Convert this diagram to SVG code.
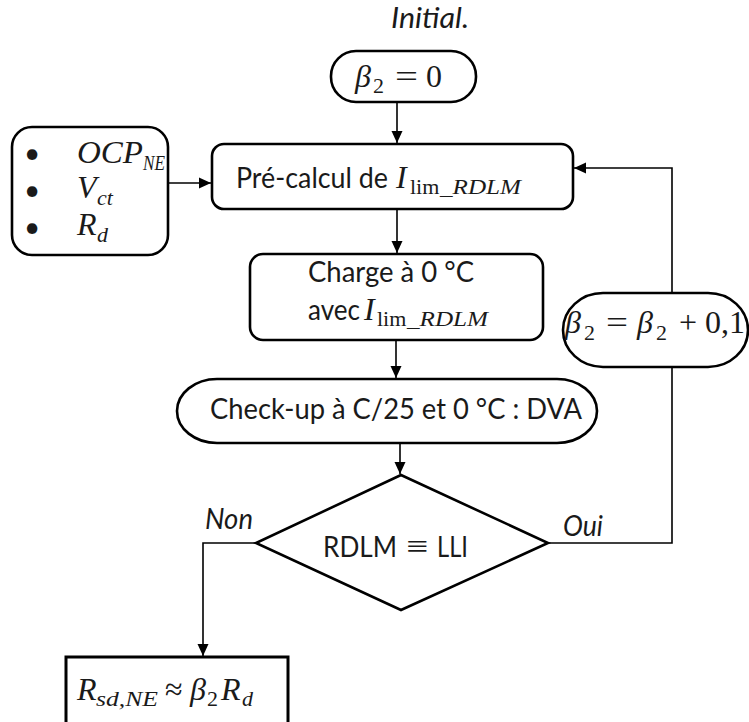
<svg xmlns="http://www.w3.org/2000/svg" width="749" height="722" viewBox="0 0 749 722">
<style>
.box{fill:#fff;stroke:#000;stroke-width:2.6}
.res{fill:#fff;stroke:#000;stroke-width:3}
.conn{fill:none;stroke:#000;stroke-width:1.6}
.sans{font-family:Lato,"Liberation Sans",sans-serif;font-size:28px;fill:#1a1a1a}
.it{font-style:italic}
.math{font-family:"Liberation Serif","DejaVu Serif",serif;font-style:italic;font-size:32px;fill:#1a1a1a}
.mr{font-family:"Liberation Serif","DejaVu Serif",serif;font-size:32px;fill:#1a1a1a}
.sub{font-size:22px}
</style>
<defs>
<marker id="arr" viewBox="0 0 12 12" refX="12" refY="6" markerWidth="12" markerHeight="12" markerUnits="userSpaceOnUse" orient="auto">
<path d="M0,0.5 L12,6 L0,11.5 z" fill="#000"/>
</marker>
</defs>

<g id="connectors" class="conn">
<line x1="397" y1="102" x2="397" y2="143" marker-end="url(#arr)"/>
<line x1="168" y1="183" x2="211" y2="183" marker-end="url(#arr)"/>
<line x1="397" y1="209" x2="397" y2="253" marker-end="url(#arr)"/>
<line x1="396" y1="340" x2="396" y2="378" marker-end="url(#arr)"/>
<line x1="400" y1="443" x2="400" y2="474" marker-end="url(#arr)"/>
<polyline points="256,543 203,543 203,656" marker-end="url(#arr)"/>
<polyline points="548,543 672,543 672,352" marker-end="url(#arr)"/>
<polyline points="672,293 672,168 574,168" marker-end="url(#arr)"/>
</g>

<text class="sans it" x="391" y="28" font-size="27" textLength="78" lengthAdjust="spacingAndGlyphs">Initial.</text>

<g id="start">
<rect class="box" x="331" y="51" width="145" height="51" rx="25" ry="25"/>
<text class="math" x="355" y="87">β</text>
<text class="mr sub" x="373" y="93">2</text>
<text class="mr" x="395" y="87" textLength="23" lengthAdjust="spacingAndGlyphs">=</text>
<text class="mr" x="426" y="87">0</text>
</g>

<g id="inputs">
<rect class="box" x="12" y="127" width="156" height="128" rx="20" ry="20"/>
<text class="sans" x="32" y="163" text-anchor="middle" font-family="Liberation Sans">•</text>
<text class="sans" x="32" y="200" text-anchor="middle" font-family="Liberation Sans">•</text>
<text class="sans" x="32" y="237" text-anchor="middle" font-family="Liberation Sans">•</text>
<text class="math" x="77" y="163" textLength="66" lengthAdjust="spacingAndGlyphs">OCP</text>
<text class="math sub" x="143" y="170" textLength="22" lengthAdjust="spacingAndGlyphs">NE</text>
<text class="math" x="77" y="198">V</text>
<text class="math sub" x="97" y="205">ct</text>
<text class="math" x="77" y="235">R</text>
<text class="math sub" x="97" y="242">d</text>
</g>

<g id="precalc">
<rect class="box" x="212" y="144" width="361" height="65" rx="12" ry="12"/>
<text class="sans" x="236" y="188" textLength="152" lengthAdjust="spacingAndGlyphs">Pré-calcul de</text>
<text class="math" x="396" y="188">I</text>
<text class="mr sub" x="410" y="194">lim</text>
<text class="math sub" x="440" y="194" textLength="81" lengthAdjust="spacingAndGlyphs">_RDLM</text>
</g>

<g id="charge">
<rect class="box" x="250" y="254" width="293" height="86" rx="13" ry="13"/>
<text class="sans" x="308" y="282" textLength="166" lengthAdjust="spacingAndGlyphs">Charge à 0 °C</text>
<text class="sans" x="308" y="320" textLength="52" lengthAdjust="spacingAndGlyphs">avec</text>
<text class="math" x="364" y="320">I</text>
<text class="mr sub" x="377" y="326">lim</text>
<text class="math sub" x="407" y="326" textLength="81" lengthAdjust="spacingAndGlyphs">_RDLM</text>
</g>

<g id="checkup">
<rect class="box" x="177" y="379" width="420" height="64" rx="40" ry="32"/>
<text class="sans" x="210" y="419" textLength="372" lengthAdjust="spacingAndGlyphs">Check-up à C/25 et 0 °C : DVA</text>
</g>

<g id="increment">
<rect class="box" x="563" y="293" width="185" height="74" rx="40" ry="37"/>
<text class="math" x="565" y="333">β</text>
<text class="mr sub" x="584" y="340">2</text>
<text class="mr" x="606" y="333" textLength="22" lengthAdjust="spacingAndGlyphs">=</text>
<text class="math" x="637" y="333">β</text>
<text class="mr sub" x="656" y="340">2</text>
<text class="mr" x="679" y="333">+</text>
<text class="mr" x="705" y="333">0,1</text>
</g>

<g id="decision">
<polygon class="box" points="401,475 548,543 401,610 256,543"/>
<text class="sans" x="323" y="557" textLength="74" lengthAdjust="spacingAndGlyphs">RDLM</text>
<text class="mr" x="406" y="557" textLength="22" lengthAdjust="spacingAndGlyphs">≡</text>
<text class="sans" x="437" y="557" textLength="31" lengthAdjust="spacingAndGlyphs">LLI</text>
</g>

<text class="sans it" x="205" y="529" textLength="48" lengthAdjust="spacingAndGlyphs">Non</text>
<text class="sans it" x="563" y="536" textLength="40" lengthAdjust="spacingAndGlyphs">Oui</text>

<g id="result">
<rect class="res" x="66" y="657" width="222" height="80"/>
<text class="math" x="77" y="700">R</text>
<text class="math sub" x="96" y="706" textLength="62" lengthAdjust="spacingAndGlyphs">sd,NE</text>
<text class="mr" x="165" y="700">≈</text>
<text class="math" x="190" y="700">β</text>
<text class="mr sub" x="207" y="706">2</text>
<text class="math" x="221" y="700">R</text>
<text class="math sub" x="242" y="706">d</text>
</g>
</svg>
